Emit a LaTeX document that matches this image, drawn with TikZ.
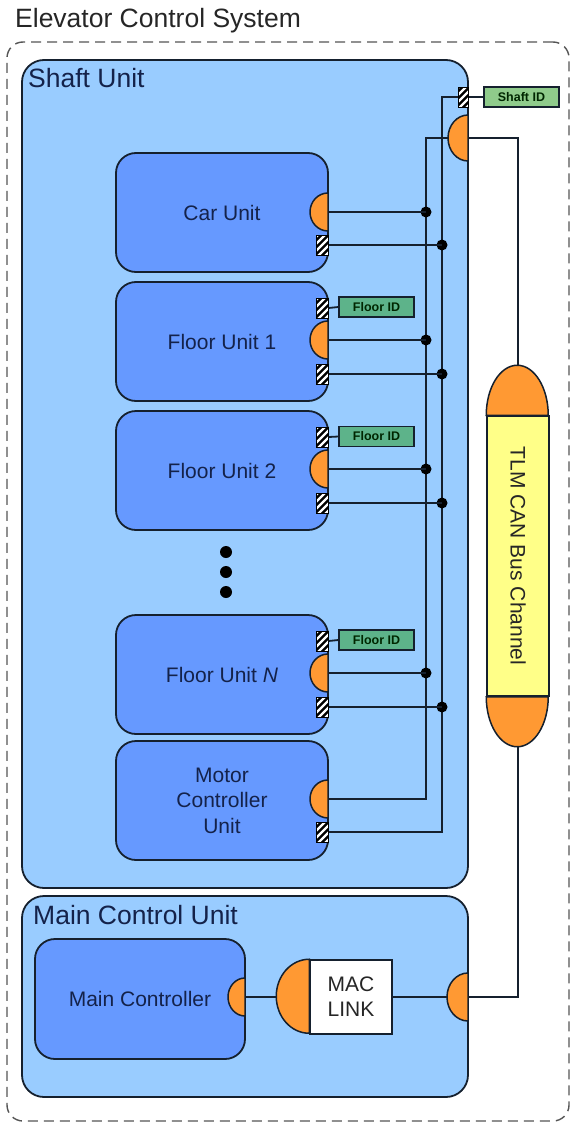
\documentclass[tikz,border=0pt]{standalone}
\usepackage{fontspec}
\setmainfont{Liberation Sans}
\usetikzlibrary{calc}

\definecolor{shaftblue}{HTML}{99CCFF}
\definecolor{unitblue}{HTML}{6699FF}
\definecolor{portorange}{HTML}{FF9933}
\definecolor{chanyellow}{HTML}{FFFF88}
\definecolor{floorgreen}{HTML}{5DB38A}
\definecolor{shaftgreen}{HTML}{8FCB8B}
\definecolor{edge}{HTML}{15202E}
\definecolor{labelink}{HTML}{14224A}
\definecolor{titleink}{HTML}{262626}
\definecolor{dashgray}{HTML}{555555}

\tikzset{
  sysbox/.style={draw=dashgray, line width=1.4pt, dash pattern=on 10pt off 6pt,
    rounded corners=16pt, minimum width=562pt, minimum height=1079pt, inner sep=0pt},
  groupbox/.style={draw=edge, line width=1.8pt, fill=shaftblue, rounded corners=22pt,
    minimum width=446pt, inner sep=0pt},
  grouplabel/.style={anchor=base west, inner sep=0pt, text=labelink,
    font=\fontsize{26.5}{30}\selectfont},
  unitbox/.style={draw=edge, line width=1.8pt, fill=unitblue, rounded corners=20pt,
    minimum width=212pt, minimum height=119pt, inner sep=0pt, align=center,
    text=labelink, font=\fontsize{21}{25.5}\selectfont},
  port/.style={fill=portorange, draw=edge, line width=1.5pt},
  hatch/.style={draw=black, fill=black, line width=1pt, minimum width=12pt,
    minimum height=20pt, inner sep=0pt,
    path picture={\foreach \k in {-21,-14,...,21}{
      \draw[white, line width=2.4pt]
        ($(path picture bounding box.center)+(\k-15,-15)$) --
        ($(path picture bounding box.center)+(\k+15,15)$);}}},
  idbox/.style={draw=edge, line width=1.2pt, minimum width=75pt, minimum height=20pt,
    inner sep=0pt, text=black!85!green, font=\bfseries\fontsize{12.5}{14}\selectfont},
  wire/.style={draw=edge, line width=1.8pt},
  dot/.style={circle, fill=black, minimum size=11pt, inner sep=0pt},
  ellipsisdot/.style={circle, fill=black, minimum size=12pt, inner sep=0pt},
  plainbox/.style={draw=edge, line width=1.5pt, fill=white, minimum width=82pt,
    minimum height=74pt, inner sep=0pt, align=center, text=titleink,
    font=\fontsize{21}{25}\selectfont},
  channel/.style={draw=edge, line width=1.5pt, fill=chanyellow, minimum width=62pt,
    minimum height=280pt, inner sep=0pt},
}

% half-ellipse port on a right-hand edge: name, point, x radius, y radius
\newcommand\edgeport[4]{%
  \coordinate (#1) at #2;
  \coordinate (#1-tip) at ($(#1)-(#3,0)$);
  \filldraw[port] ($(#1)+(0,#4)$) arc[start angle=90, end angle=270,
    x radius=#3, y radius=#4] -- cycle;}

\begin{document}
\begin{tikzpicture}[x=1pt, y=1pt]
\useasboundingbox (0,0) rectangle (572,-1124);

% system frame and title
\node[sysbox] (system) at (288,-581.5) {};
\node[anchor=base west, inner sep=0pt, text=titleink,
  font=\fontsize{26.5}{30}\selectfont] (title) at (15,-28) {Elevator Control System};

% group boxes
\node[groupbox, minimum height=828pt] (shaft) at (245,-474) {};
\node[grouplabel] (shaftlbl) at (28,-87) {Shaft Unit};
\node[groupbox, minimum height=201pt] (mcu) at (245,-996.5) {};
\node[grouplabel] (mculbl) at (33,-924) {Main Control Unit};

% bus corner points
\coordinate (busA-top) at (426,-138);
\coordinate (busA-bot) at (426,-799);
\coordinate (busB-top) at (442,-97);
\coordinate (busB-bot) at (442,-832);

% shaft-level ID and port
\node[hatch, minimum width=10pt] (sh) at (463,-97) {};
\node[idbox, fill=shaftgreen] (shaftid) at (521.5,-97) {Shaft ID};
\edgeport{sp}{(468,-138)}{20pt}{23pt}

% units
\node[unitbox] (car) at (222,-212.5) {Car Unit};
\node[unitbox] (f1) at (222,-341.5) {Floor Unit 1};
\node[unitbox] (f2) at (222,-470.5) {Floor Unit 2};
\node[unitbox] (fn) at (222,-674.5) {Floor Unit \textit{N}};
\node[unitbox] (mc) at (222,-800.5) {Motor\\Controller\\Unit};

\node[ellipsisdot] (e1) at (226,-552) {};
\node[ellipsisdot] (e2) at (226,-572) {};
\node[ellipsisdot] (e3) at (226,-592) {};

% unit ports and hatched connectors
\edgeport{car-p}{(328,-212)}{18pt}{19pt}
\node[hatch] (car-h) at (322,-245) {};

\node[hatch] (f1-i) at (322,-308) {};
\node[idbox, fill=floorgreen] (f1-id) at (376.5,-307) {Floor ID};
\edgeport{f1-p}{(328,-340)}{18pt}{19pt}
\node[hatch] (f1-h) at (322,-374) {};

\node[hatch] (f2-i) at (322,-437) {};
\node[idbox, fill=floorgreen] (f2-id) at (376.5,-436.5) {Floor ID};
\edgeport{f2-p}{(328,-469)}{18pt}{19pt}
\node[hatch] (f2-h) at (322,-503) {};

\node[hatch] (fn-i) at (322,-641) {};
\node[idbox, fill=floorgreen] (fn-id) at (376.5,-640) {Floor ID};
\edgeport{fn-p}{(328,-673)}{18pt}{19pt}
\node[hatch] (fn-h) at (322,-707) {};

\edgeport{mc-p}{(328,-799)}{18pt}{19pt}
\node[hatch] (mc-h) at (322,-832) {};

% ID links
\draw[wire] (sh.east) -- (shaftid.west);
\draw[wire] (f1-i.east) -- (f1-id.west);
\draw[wire] (f2-i.east) -- (f2-id.west);
\draw[wire] (fn-i.east) -- (fn-id.west);

% shaft buses
\draw[wire] (sp-tip) -- (busA-top) -- (busA-bot) -- (mc-p);
\draw[wire] (sh.west) -- (busB-top) -- (busB-bot) -- (mc-h.east);

\node[dot] (car-a) at (426,-212) {};
\node[dot] (car-b) at (442,-245) {};
\node[dot] (f1-a) at (426,-340) {};
\node[dot] (f1-b) at (442,-374) {};
\node[dot] (f2-a) at (426,-469) {};
\node[dot] (f2-b) at (442,-503) {};
\node[dot] (fn-a) at (426,-673) {};
\node[dot] (fn-b) at (442,-707) {};

\draw[wire] (car-p) -- (car-a.center);
\draw[wire] (car-h.east) -- (car-b.center);
\draw[wire] (f1-p) -- (f1-a.center);
\draw[wire] (f1-h.east) -- (f1-b.center);
\draw[wire] (f2-p) -- (f2-a.center);
\draw[wire] (f2-h.east) -- (f2-b.center);
\draw[wire] (fn-p) -- (fn-a.center);
\draw[wire] (fn-h.east) -- (fn-b.center);

% CAN bus channel
\node[channel] (tlm) at (518,-556) {};
\filldraw[port] (tlm.north west) arc[start angle=180, end angle=0,
  x radius=31pt, y radius=50pt] -- cycle;
\filldraw[port] (tlm.south west) arc[start angle=180, end angle=360,
  x radius=31pt, y radius=50pt] -- cycle;
\node[rotate=-90, inner sep=0pt, text=titleink, font=\fontsize{21}{25}\selectfont]
  (tlmlbl) at (tlm.center) {TLM CAN Bus Channel};
\coordinate (tlm-top) at ($(tlm.north)+(0,50)$);
\coordinate (tlm-bot) at ($(tlm.south)+(0,-50)$);

% main control unit
\node[unitbox, minimum width=210pt, minimum height=120pt] (ctrl) at (140,-999) {Main Controller};
\edgeport{ctrl-p}{(245,-997)}{17pt}{19pt}
\node[plainbox] (mac) at (351,-997) {MAC\\LINK};
\filldraw[port] (mac.north west) arc[start angle=90, end angle=270,
  x radius=33pt, y radius=37pt] -- cycle;
\coordinate (mac-tip) at ($(mac.west)-(33,0)$);
\edgeport{mcu-p}{(468,-997)}{21pt}{24pt}

\draw[wire] (ctrl-p) -- (mac-tip);
\draw[wire] (mac.east) -- (mcu-p-tip);

% links to the channel
\draw[wire] (sp) -| (tlm-top);
\draw[wire] (mcu-p) -| (tlm-bot);
\end{tikzpicture}
\end{document}
